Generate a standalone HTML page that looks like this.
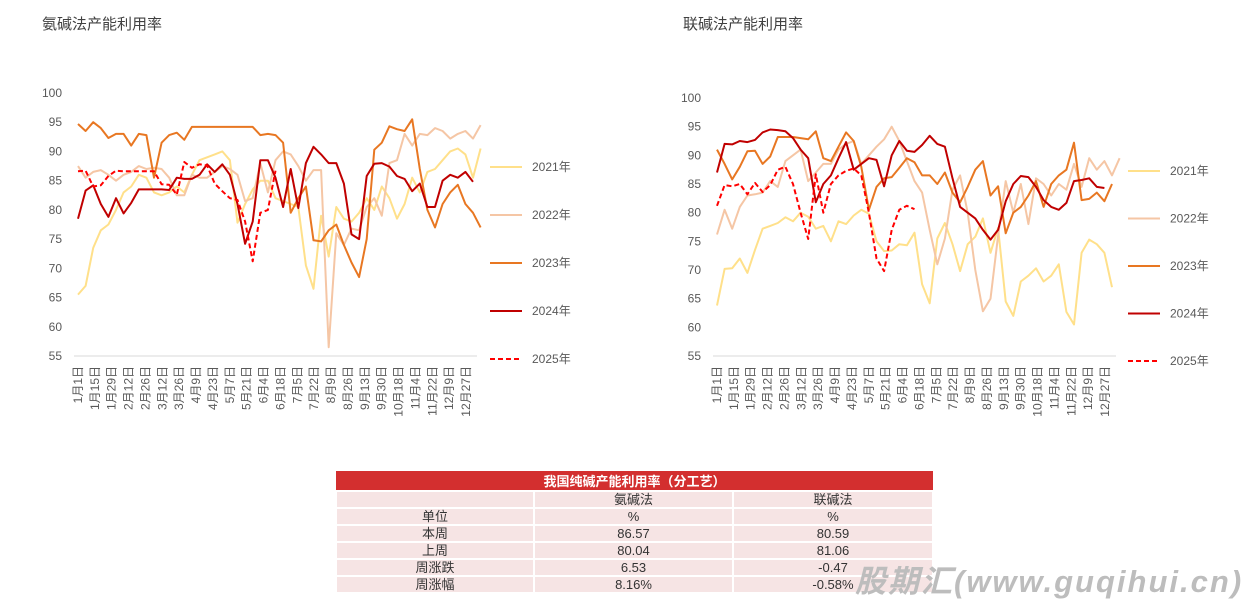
<!DOCTYPE html>
<html><head><meta charset="utf-8">
<style>
body{margin:0;background:#fff;width:1254px;height:608px;overflow:hidden;position:relative;font-family:"Liberation Sans","Noto Sans CJK SC",sans-serif;}
svg{position:absolute;left:0;top:0}
.t{position:absolute;font-size:15px;color:#404040}
table{position:absolute;left:335px;top:471px;border-collapse:collapse;width:597px;font-size:13px;color:#333;table-layout:fixed}
td{background:#F6E4E4;border:2px solid #fff;text-align:center;height:15px;line-height:15px;padding:0}
th{background:#D32F2F;color:#fff;font-weight:bold;height:17px;font-size:13px;padding:0;border-bottom:2px solid #fff}
.wm{position:absolute;left:855px;top:556px;font-size:31px;font-weight:bold;font-style:italic;color:#bdbdbd;letter-spacing:2px}
</style></head><body>
<div class="t" style="left:42px;top:13px">氨碱法产能利用率</div>
<div class="t" style="left:683px;top:13px">联碱法产能利用率</div>
<svg id="s" width="1254" height="608" xmlns="http://www.w3.org/2000/svg"></svg>
<table>
<colgroup><col style="width:198px"><col style="width:199px"><col style="width:200px"></colgroup>
<tr><th colspan="3">我国纯碱产能利用率（分工艺）</th></tr>
<tr><td></td><td>氨碱法</td><td>联碱法</td></tr>
<tr><td>单位</td><td>%</td><td>%</td></tr>
<tr><td>本周</td><td>86.57</td><td>80.59</td></tr>
<tr><td>上周</td><td>80.04</td><td>81.06</td></tr>
<tr><td>周涨跌</td><td>6.53</td><td>-0.47</td></tr>
<tr><td>周涨幅</td><td>8.16%</td><td>-0.58%</td></tr>
</table>
<div class="wm">股期汇(www.guqihui.cn)</div>
<script>
var S=document.getElementById('s'),h='';
var cols=['#FFE08A','#F5C6A5','#E87722','#C00000','#FF0000'];
var yrs=['2021年','2022年','2023年','2024年','2025年'];
var labels=['1月1日','1月15日','1月29日','2月12日','2月26日','3月12日','3月26日','4月9日','4月23日','5月7日','5月21日','6月4日','6月18日','7月5日','7月22日','8月9日','8月26日','9月13日','9月30日','10月18日','11月4日','11月22日','12月9日','12月27日'];
function chart(c){
 var X=function(i){return c.x0+i*(c.x1-c.x0)/52},Y=function(v){return c.y55-(v-55)*(c.y55-c.y100)/45};
 for(var v=55;v<=100;v+=5){h+='<text x="'+(c.x0-16)+'" y="'+(Y(v)+4)+'" text-anchor="end" font-size="12" fill="#595959">'+v+'</text>';}
 h+='<line x1="'+(c.x0-4)+'" x2="'+(c.x1+4)+'" y1="'+Y(55)+'" y2="'+Y(55)+'" stroke="#d9d9d9" stroke-width="1"/>';
 var n=labels.length;
 for(var k=0;k<n;k++){var x=c.x0+k*(c.x1-7-c.x0)/(n-1)+4;h+='<text transform="translate('+x+','+(Y(55)+10)+') rotate(-90)" text-anchor="end" font-size="12" fill="#595959">'+labels[k]+'</text>';}
 c.d.forEach(function(arr,j){var p=arr.map(function(v,i){return X(i).toFixed(1)+','+Y(v).toFixed(1)}).join(' ');
  h+='<polyline points="'+p+'" fill="none" stroke="'+cols[j]+'" stroke-width="2" stroke-linejoin="round"'+(j==4?' stroke-dasharray="5,3"':'')+'/>';
  var ly=c.ly+j*c.lg;
  h+='<line x1="'+c.lx+'" x2="'+(c.lx+32)+'" y1="'+ly+'" y2="'+ly+'" stroke="'+cols[j]+'" stroke-width="2"'+(j==4?' stroke-dasharray="5,3"':'')+'/>';
  h+='<text x="'+(c.lx+42)+'" y="'+(ly+4)+'" font-size="12" fill="#595959">'+yrs[j]+'</text>';});
}
chart({x0:78,x1:473,y100:93,y55:356,lx:490,ly:167,lg:48,d:[
[65.5,67,73.5,76.5,77.5,80,83,84,86,85.5,83,82.5,83,84,83,86,88.5,89,89.5,90,88.5,77.8,81,83.5,85,85,82,81.5,81,80.5,70.5,66.5,79,72,80.5,78.5,78,79.5,82,80,84,82,78.5,81,85.5,83,86.5,87,88.5,90,90.5,89.5,85.5,90.5],
[87.5,85.5,86.5,86.8,86,85,86,86.5,87.5,87,87.2,87,85.5,82.5,82.5,86,85.5,85.5,86.5,87.5,87,86,81.5,82,88,83,88.5,90,89.5,87.5,85,86.8,86.8,56.5,76,74,76.8,76.5,80.5,82,79,88,88.5,93,91,93,92.8,94,93.5,92.2,93,93.5,92.2,94.5],
[94.7,93.5,95,94,92.3,93,93,91,93,92.8,85.5,91.5,92.8,93.2,92,94.2,94.2,94.2,94.2,94.2,94.2,94.2,94.2,94.2,92.8,93,92.8,91.5,79.5,82,84,74.8,74.6,76.5,77.5,74,71,68.5,75,90.3,91.5,94.3,93.8,93.5,95.5,87,80,77,81,83,84.3,81,79.5,77],
[78.5,83.3,84.2,81,78.8,82,79.4,81.2,83.5,83.5,83.5,83.5,83.4,85.5,85.3,85.3,86,87.8,86.5,87.8,86,81,74.2,78,88.5,88.5,85.5,80.5,87,80.3,88,90.8,89.5,88,88,84.5,75.8,75,85.8,87.9,88,87.4,85.8,85.3,83.2,84.5,80.5,80.5,85,86,85.5,86.5,84.8],
[86.6,86.7,84,84.2,85.8,86.7,86.6,86.6,86.6,86.6,86.6,84.4,84.3,82.6,88.2,87.2,87.8,87.6,84.5,83.2,82,81.7,78,71.2,79.5,80,86.7]]});
chart({x0:717,x1:1112,y100:98,y55:356,lx:1128,ly:171,lg:47.5,d:[
[63.8,70.2,70.3,72,69.5,73.5,77.2,77.7,78.2,79.2,78.5,80,79.3,77.2,77.7,75,78.5,78,79.5,80.5,79.8,75,73.3,73.4,74.5,74.3,76.5,67.5,64.2,75.5,78.2,74.5,69.8,74.5,75.8,79,73,77.3,64.5,62,68,69,70.3,68,69,71,62.7,60.5,73,75.3,74.5,73,67],
[76.2,80.5,77.2,81,83,83.2,83.5,85.5,84.5,89,90,91,85.5,87,88.5,88.5,91,92,92.5,88.5,90,91.5,92.8,95,92.5,89,85.5,83.5,77,71,75.5,84,86.5,80,70,62.8,65,76,85.5,80,85,78,86,85,83,85,84,88.5,84.5,89.5,87.5,89,86.5,89.5],
[91,88.5,85.8,88,90.7,90.8,88.5,89.8,93.2,93.2,93.2,93,92.8,94.2,89.5,89,91.5,94,92.5,88,80.5,84.5,86,86.2,87.8,89.5,88.8,86.5,86.5,85,87,83.5,81.8,84.5,87.5,89,83,84.6,76.4,80,81,83,85.5,81,85,86.5,87.5,92.2,82.2,82.4,83.5,82,85],
[87,92,91.9,92.5,92.3,92.7,94,94.5,94.4,94.2,93,91,89.5,81.8,85,86.5,89.5,92.3,87.5,88.5,89.5,89.2,84.6,90,92.5,90.8,90.6,91.8,93.4,92,91.5,86,81,80,79,77,75.3,77,82,85,86.4,86.2,84.5,82.2,81,80.5,81.7,85.5,85.7,86,84.5,84.3],
[81.2,84.8,84.6,85,83.2,85.2,83.6,84.8,87.5,88,85,80,75.4,86.7,80,85,86.5,87.3,87.7,86.5,80,72,69.8,77,80.5,81.2,80.6]]});
S.innerHTML=h;
</script>
</body></html>
